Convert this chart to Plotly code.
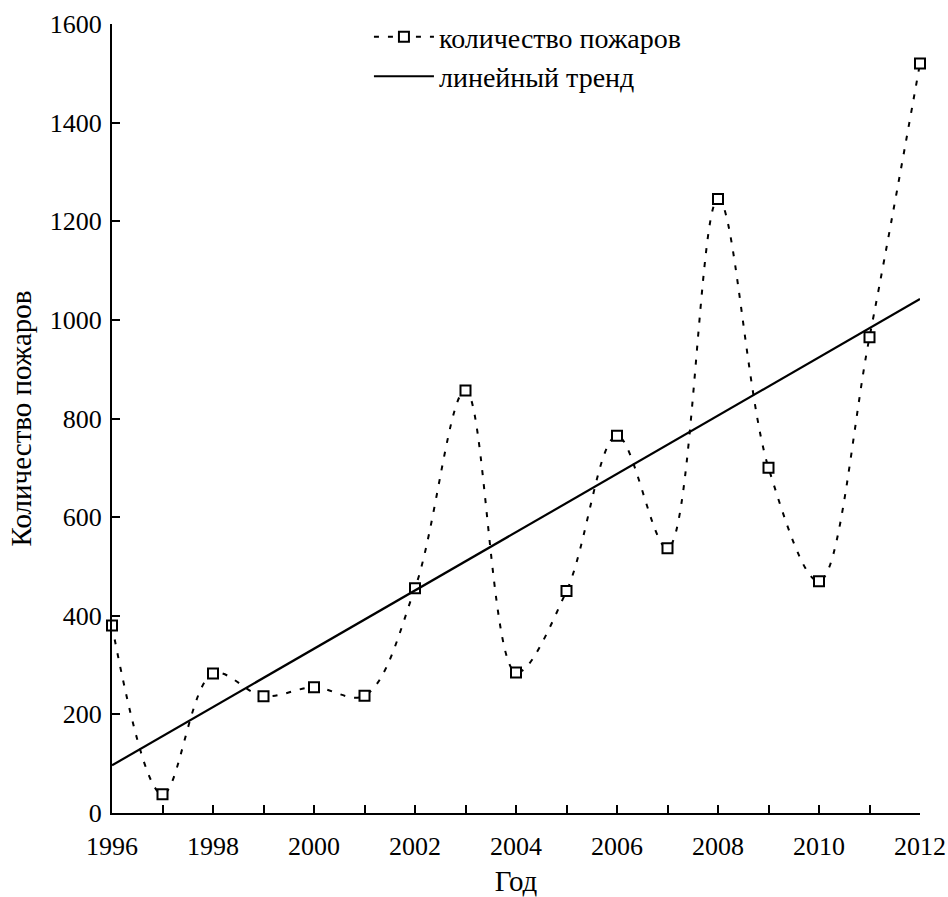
import numpy as np
import plotly.graph_objects as go

# Годы и количество пожаров
years = [1996, 1997, 1998, 1999, 2000, 2001, 2002, 2003, 2004,
         2005, 2006, 2007, 2008, 2009, 2010, 2011, 2012]
fires = [380, 38, 283, 237, 255, 238, 456, 857, 285,
         450, 765, 537, 1245, 700, 470, 965, 1520]

y_ticks = [0, 200, 400, 600, 800, 1000, 1200, 1400, 1600]
x_tick_labels = [1996, 1998, 2000, 2002, 2004, 2006, 2008, 2010, 2012]

# Линейный тренд методом наименьших квадратов
slope, intercept = np.polyfit(years, fires, 1)
trend_x = [years[0], years[-1]]
trend_y = [slope * x + intercept for x in trend_x]

FONT = "Liberation Serif, Times New Roman, serif"

fig = go.Figure()

fig.add_trace(go.Scatter(
    x=years, y=fires,
    mode="lines+markers",
    name="количество пожаров",
    legendgroup="a",
    line=dict(color="black", width=2, dash="5px,9px", shape="spline", smoothing=1.0),
    marker=dict(symbol="square", size=10, color="white",
                line=dict(color="black", width=2)),
    cliponaxis=False,
))

fig.add_trace(go.Scatter(
    x=trend_x, y=trend_y,
    mode="lines",
    name="линейный тренд",
    legendgroup="b",
    line=dict(color="black", width=2.2),
))

fig.update_layout(
    width=948, height=897,
    margin=dict(l=112, r=28, t=20, b=84),
    paper_bgcolor="white",
    plot_bgcolor="white",
    font=dict(family=FONT, size=26, color="black"),
    showlegend=True,
    legend=dict(
        x=0.318, y=1.015, xanchor="left", yanchor="top",
        bgcolor="rgba(0,0,0,0)",
        font=dict(family=FONT, size=28, color="black"),
        tracegroupgap=0,
        itemwidth=60,
    ),
)

fig.update_xaxes(
    range=[1996, 2012],
    automargin=False,
    tickmode="array",
    tickvals=years,
    ticktext=[str(y) if y in x_tick_labels else "" for y in years],
    ticks="inside", ticklen=8, tickwidth=2, tickcolor="black",
    showline=True, linewidth=2, linecolor="black",
    showgrid=False, zeroline=False,
    ticklabelstandoff=9,
    title=dict(text="Год", standoff=10, font=dict(size=29)),
    tickfont=dict(size=26),
)

fig.update_yaxes(
    range=[0, 1600],
    automargin=False,
    tickmode="array",
    tickvals=y_ticks,
    ticks="inside", ticklen=8, tickwidth=2, tickcolor="black",
    showline=True, linewidth=2, linecolor="black",
    showgrid=False, zeroline=False,
    ticklabelstandoff=3,
    title=dict(text="Количество пожаров", standoff=10, font=dict(size=29)),
    tickfont=dict(size=26),
)

fig.write_html("out.html")
